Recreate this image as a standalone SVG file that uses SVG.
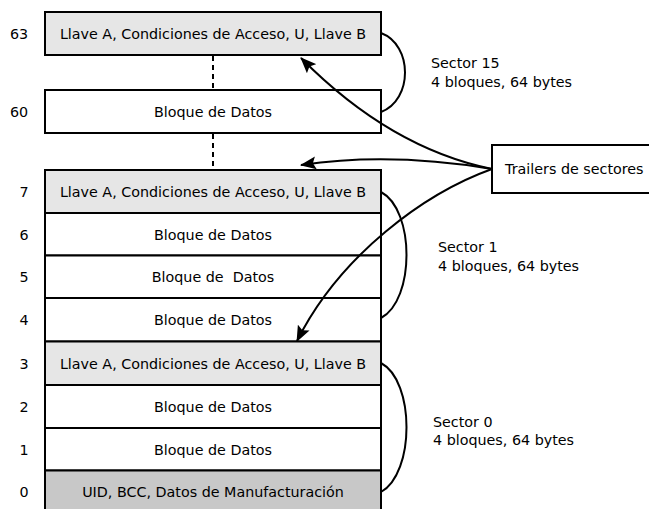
<svg xmlns="http://www.w3.org/2000/svg" width="649" height="509" viewBox="0 0 649 509">
  <style>
    text { font-family: "DejaVu Sans", "Liberation Sans", sans-serif; font-size: 14.3px; fill: #000; }
    .blk { stroke: #000; stroke-width: 2; }
    .trailer { fill: #e6e6e6; }
    .data { fill: #fff; }
    .mfg { fill: #c8c8c8; }
    .mid { text-anchor: middle; }
    .pre { white-space: pre; }
    .brace { fill: none; stroke: #000; stroke-width: 2; }
    .arrow { fill: none; stroke: #000; stroke-width: 2; marker-end: url(#head); }
    .dots { stroke: #000; stroke-width: 2; stroke-dasharray: 5 4; }
  </style>
  <defs>
    <marker id="head" markerUnits="userSpaceOnUse" viewBox="0 0 16 13" markerWidth="16" markerHeight="13" refX="15" refY="6.5" orient="auto">
      <path d="M0,0 L16,6.5 L0,13 L3,6.5 Z" fill="#000"/>
    </marker>
  </defs>

  <rect width="649" height="509" fill="#fff"/>

  <!-- sector 15 -->
  <g id="block63">
    <rect class="blk trailer" x="45" y="12" width="336" height="43"/>
    <text class="mid" x="213" y="38.8">Llave A, Condiciones de Acceso, U, Llave B</text>
    <text x="10" y="38.8">63</text>
  </g>
  <g id="block60">
    <rect class="blk data" x="45" y="90" width="336" height="43"/>
    <text class="mid" x="213" y="116.8">Bloque de Datos</text>
    <text x="10" y="116.8">60</text>
  </g>

  <!-- sector 1 -->
  <g id="block7">
    <rect class="blk trailer" x="45" y="170" width="336" height="43"/>
    <text class="mid" x="213" y="196.8">Llave A, Condiciones de Acceso, U, Llave B</text>
    <text x="19.5" y="196.8">7</text>
  </g>
  <g id="block6">
    <rect class="blk data" x="45" y="213" width="336" height="42.5"/>
    <text class="mid" x="213" y="239.6">Bloque de Datos</text>
    <text x="19.5" y="239.6">6</text>
  </g>
  <g id="block5">
    <rect class="blk data" x="45" y="255.5" width="336" height="42.5"/>
    <text class="mid pre" x="213" y="282.1" xml:space="preserve">Bloque de  Datos</text>
    <text x="19.5" y="282.1">5</text>
  </g>
  <g id="block4">
    <rect class="blk data" x="45" y="298" width="336" height="43.5"/>
    <text class="mid" x="213" y="325">Bloque de Datos</text>
    <text x="19.5" y="325">4</text>
  </g>

  <!-- sector 0 -->
  <g id="block3">
    <rect class="blk trailer" x="45" y="341.5" width="336" height="43.5"/>
    <text class="mid" x="213" y="368.5">Llave A, Condiciones de Acceso, U, Llave B</text>
    <text x="19.5" y="368.5">3</text>
  </g>
  <g id="block2">
    <rect class="blk data" x="45" y="385" width="336" height="43"/>
    <text class="mid" x="213" y="411.8">Bloque de Datos</text>
    <text x="19.5" y="411.8">2</text>
  </g>
  <g id="block1">
    <rect class="blk data" x="45" y="428" width="336" height="42.5"/>
    <text class="mid" x="213" y="454.5">Bloque de Datos</text>
    <text x="19.5" y="454.5">1</text>
  </g>
  <g id="block0">
    <rect class="blk mfg" x="45" y="470.5" width="336" height="43"/>
    <text class="mid" x="213" y="496.8">UID, BCC, Datos de Manufacturación</text>
    <text x="19.5" y="496.8">0</text>
  </g>

  <!-- sector captions -->
  <g id="sector15">
    <text x="431" y="68">Sector 15</text>
    <text x="431" y="86.5">4 bloques, 64 bytes</text>
  </g>
  <g id="sector1">
    <text x="438" y="252.2">Sector 1</text>
    <text x="438" y="270.5">4 bloques, 64 bytes</text>
  </g>
  <g id="sector0">
    <text x="433" y="426.5">Sector 0</text>
    <text x="433" y="445">4 bloques, 64 bytes</text>
  </g>

  <g id="trailers">
    <rect class="blk data" x="492" y="145" width="170" height="48"/>
    <text x="505" y="174">Trailers de sectores</text>
  </g>

  <g id="connectors">
    <line class="dots" x1="213" y1="56" x2="213" y2="90"/>
    <line class="dots" x1="213" y1="134" x2="213" y2="170"/>
    <path class="brace" d="M381,33 C413,45 413,100 381,112"/>
    <path class="brace" d="M381,192 C415,210 415,300 381,318"/>
    <path class="brace" d="M381,363 C415,381 415,473 381,492"/>
    <path class="arrow" d="M492,169 Q390,148 301,58"/>
    <path class="arrow" d="M492,169 Q390,152 301,165"/>
    <path class="arrow" d="M492,169 C425,193 340,255 297,341"/>
  </g>
</svg>
